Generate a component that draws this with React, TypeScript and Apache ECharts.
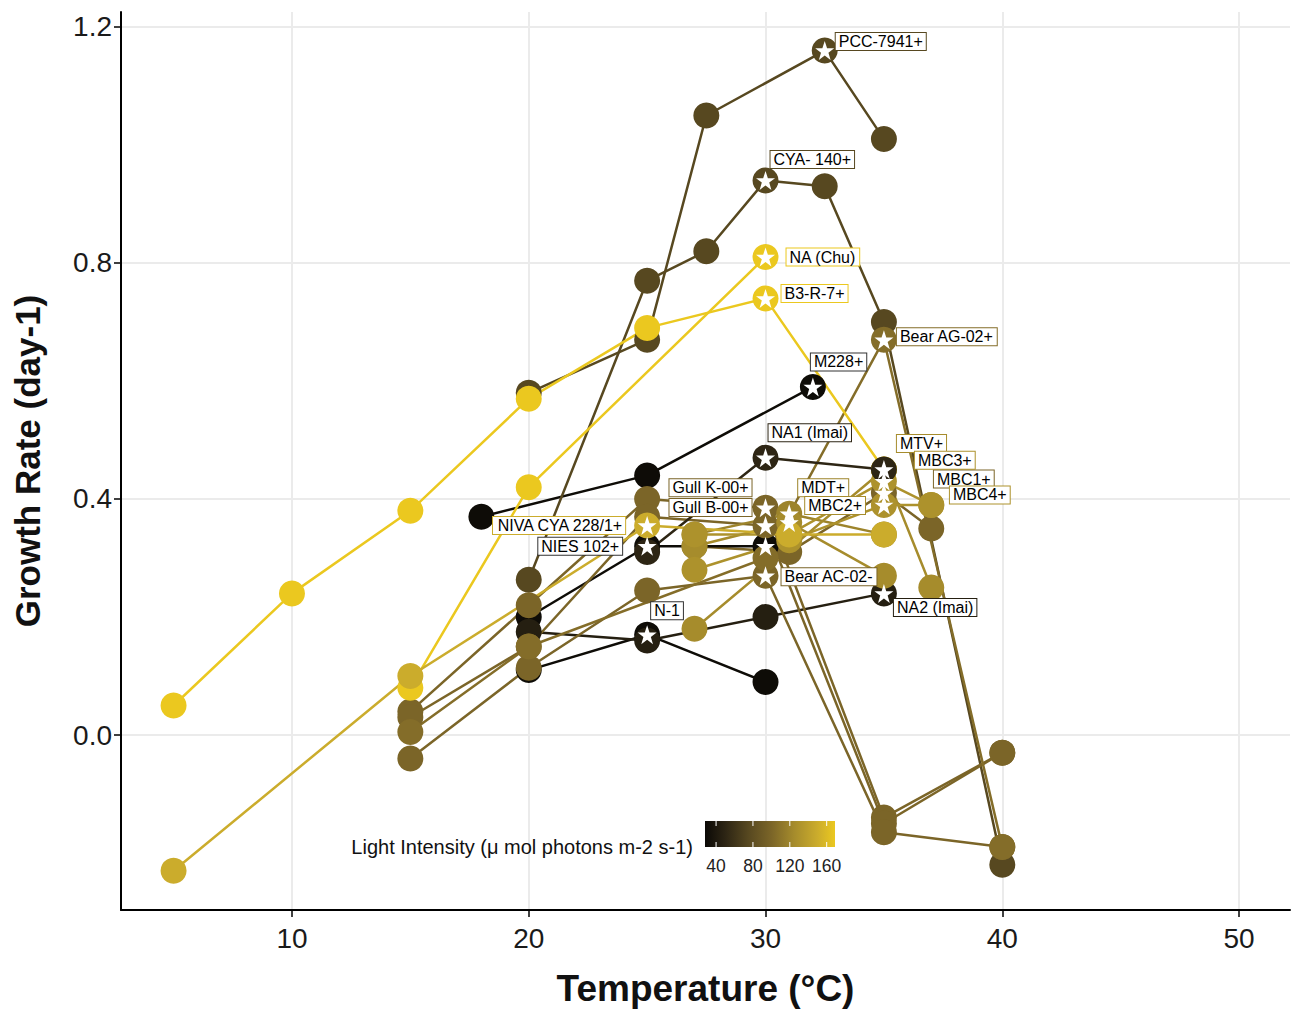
import React, { useEffect, useRef } from "react";
import * as echarts from "echarts";

// ---------- data: [temperature (°C), growth rate (day-1)] per strain ----------
const M228 = [[18, 0.37], [25, 0.44], [32, 0.59]];
const NIES102 = [[20, 0.2], [25, 0.32], [30, 0.32]];
const N1 = [[20, 0.11], [25, 0.17], [30, 0.09]];
const NA2_IMAI = [[20, 0.175], [25, 0.16], [30, 0.2], [35, 0.24]];
const NA1_IMAI = [[25, 0.31], [30, 0.47], [35, 0.45]];
const PCC7941 = [[20, 0.58], [25, 0.67], [27.5, 1.05], [32.5, 1.16], [35, 1.01]];
const CYA140 = [[20, 0.263], [25, 0.77], [27.5, 0.82], [30, 0.94], [32.5, 0.93], [35, 0.7], [40, -0.22]];
const GULL_K00 = [[15, 0.04], [20, 0.22], [25, 0.4], [30, 0.385], [35, -0.14], [40, -0.03]];
const GULL_B00 = [[15, 0.03], [20, 0.15], [25, 0.37], [30, 0.355], [35, -0.15], [40, -0.03]];
const BEAR_AC02 = [[15, -0.04], [20, 0.114], [25, 0.245], [30, 0.27], [35, -0.165], [40, -0.19]];
const BEAR_AG02 = [[15, 0.005], [20, 0.15], [30, 0.3], [35, 0.67], [40, -0.19]];
const MBC1 = [[27, 0.32], [31, 0.31], [35, 0.41], [37, 0.35]];
const MDT = [[27, 0.34], [31, 0.375], [35, 0.34]];
const MBC2 = [[27, 0.32], [31, 0.36], [35, 0.27]];
const MTV = [[27, 0.18], [35, 0.45], [37, 0.25]];
const MBC3 = [[27, 0.34], [31, 0.34], [35, 0.43], [37, 0.39]];
const MBC4 = [[27, 0.28], [31, 0.33], [35, 0.39], [37, 0.39]];
const B3R7 = [[5, 0.05], [10, 0.24], [15, 0.38], [20, 0.57], [25, 0.69], [30, 0.74], [35, 0.45]];
const NA_CHU = [[15, 0.08], [20, 0.42], [30, 0.81]];
const NIVA228 = [[5, -0.23], [15, 0.1], [25, 0.355], [31, 0.34], [35, 0.34]];

const strainNames = [
  "MBC1+", "M228+", "NIES 102+", "N-1", "NA2 (Imai)", "PCC-7941+", "CYA- 140+",
  "Gull K-00+", "Gull B-00+", "Bear AC-02-", "Bear AG-02+", "MDT+", "MBC2+",
  "MTV+", "MBC3+", "MBC4+", "B3-R-7+", "NA1 (Imai)", "NA (Chu)", "NIVA CYA 228/1+",
];
const strainData = [
  MBC1, M228, NIES102, N1, NA2_IMAI, PCC7941, CYA140,
  GULL_K00, GULL_B00, BEAR_AC02, BEAR_AG02, MDT, MBC2,
  MTV, MBC3, MBC4, B3R7, NA1_IMAI, NA_CHU, NIVA228,
];
// light intensity (µmol photons m-2 s-1) per strain
const strainLight = [100, 30, 30, 30, 45, 75, 75, 100, 100, 100, 105, 120, 125, 125, 130, 130, 169, 50, 169, 150];
// index(es) of the optimum point(s), drawn as stars; label on the first one
const strainOptimum = [[2], [2], [1, 2], [1], [3], [3], [3], [3], [3], [3], [3], [1], [1], [1], [2], [2], [5], [1], [2], [2]];

const legendTicks = [40, 80, 120, 160];
const lightMin = 28;
const lightMax = 169;

// ---------- styles / layout ----------
const colorStops: [number, string][] = [
  [28, "#0b0906"], [50, "#2d2514"], [75, "#574820"], [100, "#7b6528"],
  [125, "#a68c2c"], [150, "#cbac2c"], [169, "#ebc81f"],
];
const labelLayout: Record<string, [string, number, number]> = {
  "PCC-7941+": ["right", 11, -9],
  "CYA- 140+": ["right", 5, -21],
  "NA (Chu)": ["right", 21, 0],
  "B3-R-7+": ["right", 16, -5],
  "Bear AG-02+": ["right", 13, -3],
  "M228+": ["right", -2, -25],
  "NA1 (Imai)": ["right", 3, -25],
  "MTV+": ["right", 13, -26],
  "MBC3+": ["right", 31, -21],
  "MBC1+": ["right", 50, -14],
  "MBC4+": ["right", 66, -10],
  "Gull K-00+": ["left", -14, -20],
  "Gull B-00+": ["left", -14, -18],
  "MDT+": ["right", 9, -26],
  "MBC2+": ["right", 16, -17],
  "NIVA CYA 228/1+": ["left", -22, 0],
  "NIES 102+": ["left", -25, 0],
  "Bear AC-02-": ["right", 16, 1],
  "NA2 (Imai)": ["right", 10, 14],
  "N-1": ["right", 4, -24],
};

const FONT = '"Liberation Sans", Arial, sans-serif';
const STAR =
  "path://M50,2 L61.8,36.2 L97.6,36.2 L68.6,57.4 L79.4,91.8 L50,70.6 L20.6,91.8 L31.4,57.4 L2.4,36.2 L38.2,36.2 Z";
const STAR_SIZE = 19;

function hexToRgb(h: string) {
  return [parseInt(h.slice(1, 3), 16), parseInt(h.slice(3, 5), 16), parseInt(h.slice(5, 7), 16)];
}
function colorFor(v: number) {
  for (let i = 0; i < colorStops.length - 1; i++) {
    const [a, ca] = colorStops[i];
    const [b, cb] = colorStops[i + 1];
    if (v <= b || i === colorStops.length - 2) {
      const t = Math.max(0, Math.min(1, (v - a) / (b - a)));
      const A = hexToRgb(ca);
      const B = hexToRgb(cb);
      const c = A.map((x, k) => Math.round(x + (B[k] - x) * t));
      return `rgb(${c[0]},${c[1]},${c[2]})`;
    }
  }
  return colorStops[colorStops.length - 1][1];
}

export default function App() {
  const ref = useRef<HTMLDivElement>(null);
  useEffect(() => {
    if (!ref.current) return;
    const chart = echarts.init(ref.current, null, { renderer: "svg" });

    const lineSeries = strainNames.map((name, i) => {
      const c = colorFor(strainLight[i]);
      return {
        type: "line",
        name,
        data: strainData[i],
        symbol: "circle",
        symbolSize: 26,
        showSymbol: true,
        lineStyle: { color: c, width: 2.5 },
        itemStyle: { color: c, opacity: 1 },
        z: 2,
        silent: true,
        clip: false,
      };
    });

    const starItems: any[] = [];
    strainNames.forEach((name, i) => {
      const c = colorFor(strainLight[i]);
      strainOptimum[i].forEach((idx, k) => {
        const pt = strainData[i][idx];
        const item: any = { value: pt };
        if (k === 0 && labelLayout[name]) {
          const [pos, edge, dy] = labelLayout[name];
          const ox = pos === "right" ? edge - STAR_SIZE / 2 : edge + STAR_SIZE / 2;
          item.label = {
            show: true,
            formatter: name,
            position: pos,
            distance: 0,
            offset: [ox, dy],
            backgroundColor: "#ffffff",
            borderColor: strainLight[i] < 40 ? "#333333" : c,
            borderWidth: 1,
            padding: [1, 3, 0, 3],
            fontSize: 16,
            lineHeight: 16,
            color: "#000000",
            fontFamily: FONT,
          };
        }
        starItems.push(item);
      });
    });

    const barX = 705;
    const barW = 130;
    const barY = 821;
    const barH = 26;
    const toBar = (v: number) => barX + ((v - lightMin) / (lightMax - lightMin)) * barW;
    const gradStops = colorStops.map(([v, c]) => ({ offset: (v - lightMin) / (lightMax - lightMin), color: c }));

    const graphic: any[] = [
      {
        type: "text",
        x: 693,
        y: 847,
        style: {
          text: "Light Intensity (\u03bc mol photons m-2 s-1)",
          fontSize: 20,
          fontFamily: FONT,
          fill: "#111",
          textAlign: "right",
          textVerticalAlign: "middle",
        },
        z: 10,
      },
      {
        type: "rect",
        shape: { x: barX, y: barY, width: barW, height: barH },
        style: { fill: new echarts.graphic.LinearGradient(0, 0, 1, 0, gradStops) },
        z: 10,
      },
    ];
    legendTicks.forEach((t) => {
      const px = toBar(t);
      graphic.push(
        { type: "line", shape: { x1: px, y1: barY, x2: px, y2: barY + 5 }, style: { stroke: "#ffffff", lineWidth: 1 }, z: 11 },
        { type: "line", shape: { x1: px, y1: barY + barH - 5, x2: px, y2: barY + barH }, style: { stroke: "#ffffff", lineWidth: 1 }, z: 11 },
        {
          type: "text",
          x: px,
          y: 866,
          style: { text: String(t), fontSize: 17.5, fontFamily: FONT, fill: "#222", textAlign: "center", textVerticalAlign: "middle" },
          z: 11,
        }
      );
    });

    const option: any = {
      animation: false,
      backgroundColor: "#ffffff",
      grid: { left: 121, right: 10, top: 12, bottom: 106, containLabel: false },
      xAxis: {
        type: "value",
        min: 2.78,
        max: 52.15,
        axisLine: { show: true, onZero: false, lineStyle: { color: "#000", width: 2 } },
        axisTick: { show: true, customValues: [10, 20, 30, 40, 50], length: 7, lineStyle: { color: "#000", width: 1.5 } },
        axisLabel: { customValues: [10, 20, 30, 40, 50], fontSize: 28, color: "#1a1a1a", margin: 14, fontFamily: FONT },
        splitLine: { show: true, lineStyle: { color: "#ebebeb", width: 2 } },
        name: "Temperature (\u00b0C)",
        nameLocation: "middle",
        nameGap: 60,
        nameTextStyle: { fontSize: 37, fontWeight: "bold", color: "#111", fontFamily: FONT },
      },
      yAxis: {
        type: "value",
        min: -0.2966,
        max: 1.2254,
        axisLine: { show: true, onZero: false, lineStyle: { color: "#000", width: 2 } },
        axisTick: { show: true, customValues: [0, 0.4, 0.8, 1.2], length: 7, lineStyle: { color: "#000", width: 1.5 } },
        axisLabel: {
          customValues: [0, 0.4, 0.8, 1.2],
          fontSize: 28,
          color: "#1a1a1a",
          margin: 9,
          fontFamily: FONT,
          formatter: (v: number) => v.toFixed(1),
        },
        splitLine: { show: true, lineStyle: { color: "#ebebeb", width: 2 } },
        name: "Growth Rate (day-1)",
        nameLocation: "middle",
        nameGap: 76,
        nameTextStyle: { fontSize: 35, fontWeight: "bold", color: "#111", fontFamily: FONT },
      },
      series: [
        ...lineSeries,
        {
          type: "scatter",
          name: "optimum",
          data: starItems,
          symbol: STAR,
          symbolSize: STAR_SIZE,
          itemStyle: { color: "#ffffff", opacity: 1 },
          z: 5,
          silent: true,
          clip: false,
        },
      ],
      graphic,
    };
    chart.setOption(option);
    return () => chart.dispose();
  }, []);

  return <div ref={ref} style={{ position: "fixed", left: 0, top: 0, width: 1300, height: 1016 }} />;
}
